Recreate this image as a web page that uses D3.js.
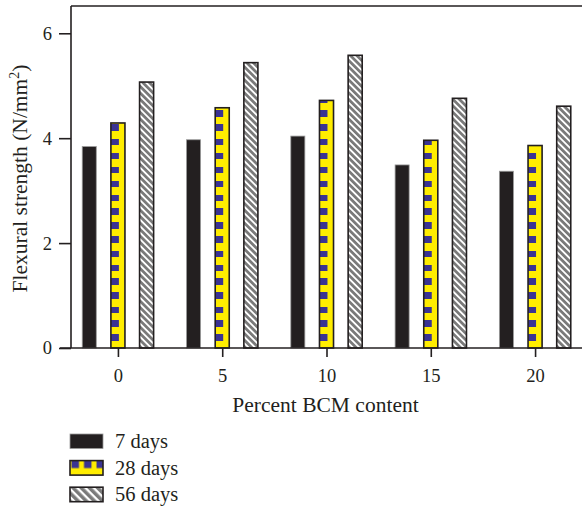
<!DOCTYPE html>
<html><head><meta charset="utf-8">
<script src="https://cdn.jsdelivr.net/npm/d3@7"></script>
<style>html,body{margin:0;padding:0;background:#fff;} svg{display:block;}</style>
</head><body>
<svg id="chart" width="582" height="508"></svg>
<script>
const categories = ["0", "5", "10", "15", "20"];
const seriesNames = ["7 days", "28 days", "56 days"];
const days7  = [3.84, 3.97, 4.04, 3.49, 3.37];
const days28 = [4.29, 4.58, 4.72, 3.96, 3.86];
const days56 = [5.07, 5.44, 5.58, 4.76, 4.61];
const yTicks = [0, 2, 4, 6];
const seriesValues = [days7, days28, days56];

const ink = "#231f20";
const font = "'Liberation Serif', 'Times New Roman', serif";
const svg = d3.select("#chart");

const defs = svg.append("defs");
const p28 = defs.append("pattern").attr("id","p28").attr("patternUnits","userSpaceOnUse")
  .attr("width",14).attr("height",14);
p28.append("rect").attr("width",14).attr("height",14).attr("fill","#ffed00");
p28.append("rect").attr("x",0).attr("y",0).attr("width",8).attr("height",7).attr("fill","#3a3393");
const p28l = defs.append("pattern").attr("id","p28l").attr("patternUnits","userSpaceOnUse")
  .attr("width",12.5).attr("height",30);
p28l.append("rect").attr("width",12.5).attr("height",30).attr("fill","#ffed00");
p28l.append("rect").attr("x",1.5).attr("y",0).attr("width",7.5).attr("height",7.5).attr("fill","#3a3393");
function hatch(id, w) {
  const p = defs.append("pattern").attr("id",id).attr("patternUnits","userSpaceOnUse")
    .attr("width",w).attr("height",w).attr("patternTransform","rotate(-45)");
  p.append("rect").attr("width",w).attr("height",w).attr("fill","#ffffff");
  p.append("rect").attr("width",w*0.6).attr("height",w).attr("fill","#7a7a7a");
}
hatch("p56", 4.6);
hatch("p56l", 5.8);

const fills = [ink, "url(#p28)", "url(#p56)"];
const legendFills = [ink, "url(#p28l)", "url(#p56l)"];

const x0 = d3.scalePoint().domain(categories).range([71, 582]).padding(0.45);
const x1 = d3.scaleBand().domain(seriesNames).range([-43, 43]).paddingInner(0.51).paddingOuter(0.255);
const y = d3.scaleLinear().domain([0, 6.52]).range([348, 6]);

seriesValues.forEach((vals, si) => {
  const g = svg.append("g");
  vals.forEach((v, ci) => {
    const bx = x0(categories[ci]) + x1(seriesNames[si]);
    const bg = g.append("g").attr("transform", `translate(${bx},${y(0)})`);
    bg.append("rect")
      .attr("x", 0).attr("y", y(v) - y(0))
      .attr("width", x1.bandwidth()).attr("height", y(0) - y(v))
      .attr("fill", fills[si])
      .attr("stroke", si === 0 ? "#9a9a9a" : ink)
      .attr("stroke-width", si === 0 ? 0.8 : 1.6);
  });
});

svg.append("line").attr("x1",71).attr("x2",582).attr("y1",y(6.52)).attr("y2",y(6.52))
  .attr("stroke",ink).attr("stroke-width",1.6);

const yAxis = svg.append("g").attr("transform","translate(71,0)")
  .call(d3.axisLeft(y).tickValues(yTicks).tickSize(12).tickPadding(7).tickFormat(d3.format("d")));
yAxis.select(".domain").attr("d", `M0,${y(6.52)}V${y(0)}`);
const xAxis = svg.append("g").attr("transform",`translate(0,${y(0)})`)
  .call(d3.axisBottom(x0).tickSize(9).tickPadding(12));
xAxis.select(".domain").attr("d", "M60,0H582");

[yAxis, xAxis].forEach(a => {
  a.selectAll("path, line").attr("stroke", ink).attr("stroke-width", 1.6);
  a.selectAll("text").attr("fill", ink).style("font-family", font).style("font-size","18.5px");
});

svg.append("text").attr("x", 325.5).attr("y", 412).attr("text-anchor","middle")
  .style("font-family",font).style("font-size","21.5px").attr("fill",ink)
  .text("Percent BCM content");
const yt = svg.append("text").attr("transform","translate(27,178.5) rotate(-90)")
  .attr("text-anchor","middle").style("font-family",font).style("font-size","21.5px").attr("fill",ink);
yt.append("tspan").text("Flexural strength (N/mm");
yt.append("tspan").attr("dy",-8).style("font-size","14px").text("2");
yt.append("tspan").attr("dy",8).text(")");

const leg = svg.append("g");
seriesNames.forEach((name, i) => {
  const ly = 434 + i * 26.6;
  const lg = leg.append("g").attr("transform", `translate(70,${ly})`);
  lg.append("rect").attr("x",0).attr("y",0).attr("width",33).attr("height",14.5)
    .attr("fill", legendFills[i])
    .attr("stroke", i === 0 ? "#9a9a9a" : ink).attr("stroke-width", i === 0 ? 0.8 : 1.6);
  lg.append("text").attr("x",45).attr("y",14).style("font-family",font).style("font-size","20.5px")
    .attr("fill",ink).text(name);
});
</script>
</body></html>
